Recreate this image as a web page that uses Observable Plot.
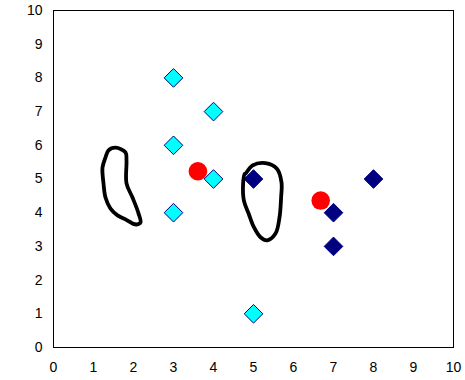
<!DOCTYPE html>
<html>
<head>
<meta charset="utf-8">
<script src="https://cdn.jsdelivr.net/npm/d3@7"></script>
<script src="https://cdn.jsdelivr.net/npm/@observablehq/plot@0.6"></script>
<style>
  html, body { margin: 0; padding: 0; background: #fff; }
</style>
</head>
<body>
<div id="chart"></div>
<script>
const tickValues = [0, 1, 2, 3, 4, 5, 6, 7, 8, 9, 10];

const cyanX = [3, 4, 3, 4, 3, 5];
const cyanY = [8, 7, 6, 5, 4, 1];

const navyX = [5, 7, 8, 7];
const navyY = [5, 4, 5, 3];

const centroidX = [3.61, 6.68];
const centroidY = [5.23, 4.36];

const blob1X = [1.55, 1.80, 1.825, 1.825, 1.975, 2.125, 2.175, 2.075, 1.975, 1.80, 1.60, 1.425, 1.30, 1.25, 1.225, 1.30, 1.375];
const blob1Y = [5.93, 5.79, 5.55, 4.87, 4.45, 3.98, 3.71, 3.65, 3.68, 3.80, 3.92, 4.12, 4.45, 4.87, 5.34, 5.64, 5.85];

const blob2X = [4.80, 4.97, 5.30, 5.59, 5.70, 5.69, 5.65, 5.55, 5.34, 5.175, 5.01, 4.88, 4.76, 4.74, 4.78];
const blob2Y = [5.16, 5.40, 5.47, 5.30, 4.90, 4.45, 3.86, 3.38, 3.18, 3.27, 3.57, 3.97, 4.36, 4.86, 5.15];

const pts = (xs, ys) => xs.map((x, i) => ({x, y: ys[i]}));

const cyan = pts(cyanX, cyanY);
const navy = pts(navyX, navyY);
const centroids = pts(centroidX, centroidY);
const blob1 = pts(blob1X, blob1Y);
const blob2 = pts(blob2X, blob2Y);

const chart = Plot.plot({
  width: 465,
  height: 380,
  marginLeft: 53,
  marginRight: 12,
  marginTop: 10,
  marginBottom: 33,
  style: {
    fontFamily: "Arial, 'Liberation Sans', sans-serif",
    fontSize: "14px",
    color: "black",
    background: "white"
  },
  x: {domain: [0, 10], ticks: tickValues, tickSize: 0, tickPadding: 15, label: null},
  y: {domain: [0, 10], ticks: tickValues, tickSize: 0, tickPadding: 11, label: null},
  marks: [
    Plot.frame({stroke: "black", strokeWidth: 1}),
    Plot.dot(cyan, {x: "x", y: "y", symbol: "diamond2", r: 8.4, fill: "#00FFFF", stroke: "#000080", strokeWidth: 1}),
    Plot.dot(navy, {x: "x", y: "y", symbol: "diamond2", r: 8.4, fill: "#000080", stroke: "#000080", strokeWidth: 1}),
    Plot.dot(centroids, {x: "x", y: "y", r: 9.3, fill: "#FF0000", stroke: "none"}),
    Plot.line(blob1, {x: "x", y: "y", curve: "catmull-rom-closed", stroke: "black", strokeWidth: 3.8}),
    Plot.line(blob2, {x: "x", y: "y", curve: "catmull-rom-closed", stroke: "black", strokeWidth: 3.8})
  ]
});
document.getElementById("chart").appendChild(chart);
</script>
</body>
</html>
